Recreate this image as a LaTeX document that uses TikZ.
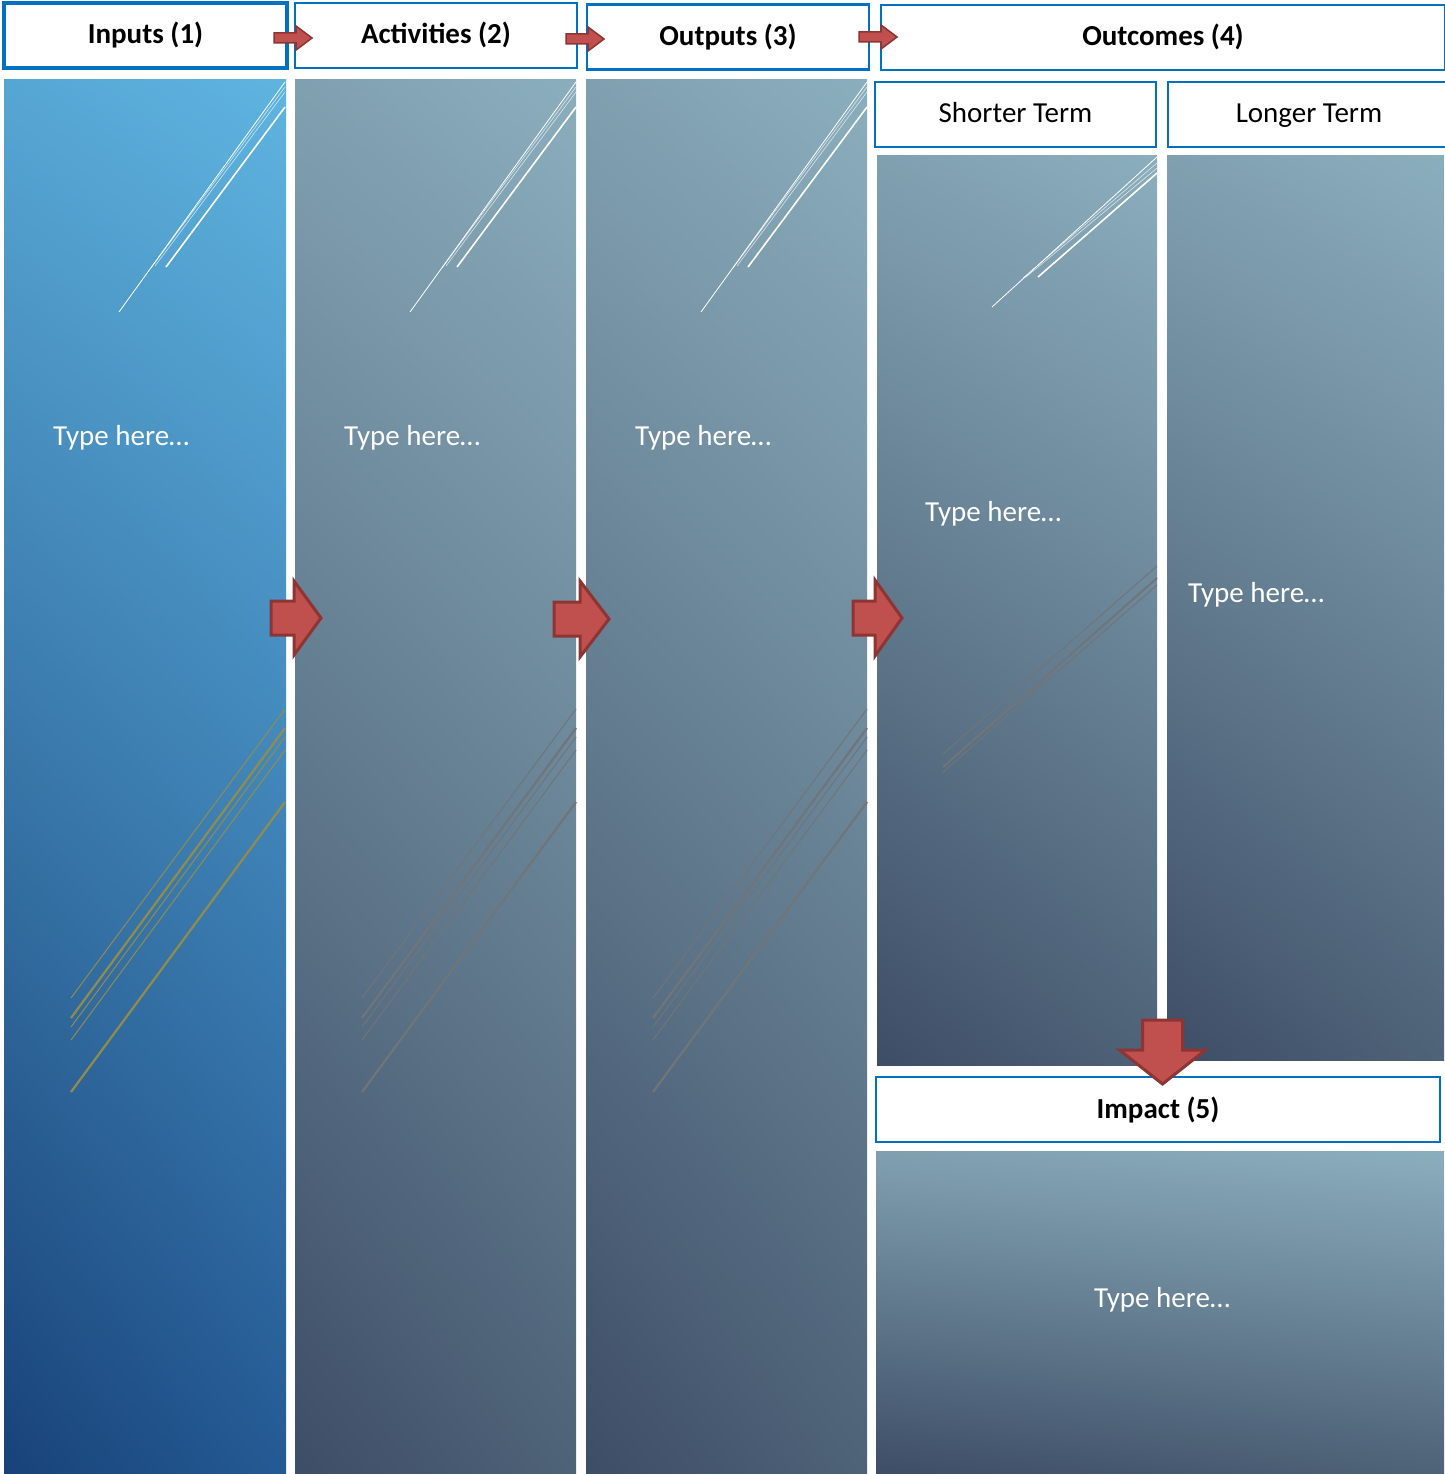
\documentclass[tikz,border=0pt]{standalone}
\usepackage{fontspec}
\setmainfont{Carlito}
\usetikzlibrary{positioning,shadings}
\definecolor{hdrblue}{HTML}{0070C0}
\definecolor{arrowred}{HTML}{C0504D}
\definecolor{arrowdark}{HTML}{8E3533}
\definecolor{goldline}{HTML}{928C4C}
\definecolor{greyline}{HTML}{707579}
\definecolor{blueUL}{RGB}{86,166,212}
\definecolor{blueUR}{RGB}{95,180,224}
\definecolor{blueLL}{RGB}{24,66,121}
\definecolor{blueLR}{RGB}{36,90,147}
\definecolor{greyUL}{RGB}{128,160,176}
\definecolor{greyUR}{RGB}{139,174,189}
\definecolor{greyLL}{RGB}{61,77,102}
\definecolor{greyLR}{RGB}{78,98,120}

\begin{document}
\begin{tikzpicture}[x=1pt,y=-1pt,line join=miter]
  \tikzstyle{header}=[draw=hdrblue,line width=2.5pt,fill=white,inner sep=0pt,
                      minimum height=65pt,text height=22pt,text depth=5pt,
                      font=\fontsize{29}{34}\selectfont\bfseries]
  \tikzstyle{subheader}=[header,font=\fontsize{29}{34}\selectfont]
  \tikzstyle{bluepanel}=[inner sep=0pt,upper left=blueUL,upper right=blueUR,
                         lower left=blueLL,lower right=blueLR]
  \tikzstyle{greypanel}=[inner sep=0pt,upper left=greyUL,upper right=greyUR,
                         lower left=greyLL,lower right=greyLR]
  \tikzstyle{typehere}=[text=white,inner sep=0pt,text height=23pt,text depth=4pt,
                        font=\fontsize{29}{34}\selectfont]
  \tikzstyle{blockarrow}=[fill=arrowred,draw=arrowdark,line width=3pt]

  \useasboundingbox (0,0) rectangle (1444,1474);

  % panels
  \node[bluepanel,minimum width=282pt,minimum height=1394pt] (inpanel) at (145,777) {};
  \node[greypanel,minimum width=281pt,minimum height=1394pt] (actpanel) at (435.5,777) {};
  \node[greypanel,minimum width=281pt,minimum height=1394pt] (outpanel) at (726.5,777) {};
  \node[greypanel,minimum width=280pt,minimum height=909pt] (shortpanel) at (1017,610.5) {};
  \node[greypanel,minimum width=277pt,minimum height=904pt] (longpanel) at (1305.5,608) {};
  \node[greypanel,minimum width=568pt,minimum height=323pt] (imppanel) at (1160,1312.5) {};

  % streaks
  \foreach \dx/\col in {0/goldline,291/greyline,582/greyline}{
    \draw[white,line width=0.8pt] (285+\dx,82) -- (119+\dx,312);
    \draw[white,line width=0.6pt,opacity=0.7] (285+\dx,87) -- (151+\dx,268);
    \draw[white,line width=0.6pt,opacity=0.7] (285+\dx,92) -- (155+\dx,266);
    \draw[white,line width=1.6pt] (285+\dx,107) -- (166+\dx,267);
    \draw[\col,line width=1pt] (285+\dx,709) -- (71+\dx,998);
    \draw[\col,line width=2.2pt] (285+\dx,728) -- (71+\dx,1018);
    \draw[\col,line width=1pt] (285+\dx,737) -- (71+\dx,1027);
    \draw[\col,line width=1pt] (285+\dx,750) -- (71+\dx,1040);
    \draw[\col,line width=2.2pt] (285+\dx,802) -- (71+\dx,1092);
  }
  \draw[white,line width=0.8pt] (1157,157) -- (992,307);
  \draw[white,line width=0.6pt,opacity=0.7] (1157,163) -- (1023,278);
  \draw[white,line width=0.6pt,opacity=0.7] (1157,168) -- (1026,277);
  \draw[white,line width=1.6pt] (1157,173) -- (1038,277);
  \draw[greyline,line width=1pt] (1157,566) -- (943,754);
  \draw[greyline,line width=2pt] (1157,578) -- (943,767);
  \draw[greyline,line width=1pt] (1157,585) -- (943,772);

  \node[typehere,anchor=west] (intext) at (53,436) {Type here…};
  \node[typehere,anchor=west] (acttext) at (344,436) {Type here…};
  \node[typehere,anchor=west] (outtext) at (635,436) {Type here…};
  \node[typehere,anchor=west] (shorttext) at (925,512) {Type here…};
  \node[typehere,anchor=west] (longtext) at (1188,593) {Type here…};
  \node[typehere] (imptext) at (1162,1298) {Type here…};

  % headings
  \node[header,line width=4pt,minimum width=283pt] (inputs) at (145.5,35.5) {Inputs (1)};
  \node[header,minimum width=282pt] (activities) at (436,35.5) {Activities (2)};
  \node[header,minimum width=282pt] (outputs) at (728,37) {Outputs (3)};
  \node[header,minimum width=564pt] (outcomes) at (1163,37.5) {Outcomes (4)};
  \node[subheader,minimum width=281pt] (shorter) at (1015.5,114.5) {Shorter Term};
  \node[subheader,minimum width=282pt] (longer) at (1309,114.5) {Longer Term};
  \node[header,minimum width=564pt] (impact) at (1158,1109.5) {Impact (5)};

  % arrows
  \draw[blockarrow,line width=1.5pt,shift={(274,38)}] (0,-5) -- (22,-5) -- (22,-12) -- (38,0) -- (22,12) -- (22,5) -- (0,5) -- cycle;
  \draw[blockarrow,line width=1.5pt,shift={(566,39)}] (0,-5) -- (22,-5) -- (22,-12) -- (38,0) -- (22,12) -- (22,5) -- (0,5) -- cycle;
  \draw[blockarrow,line width=1.5pt,shift={(859,37)}] (0,-5) -- (22,-5) -- (22,-12) -- (38,0) -- (22,12) -- (22,5) -- (0,5) -- cycle;
  \draw[blockarrow,shift={(271,618)}] (0,-17) -- (23,-17) -- (23,-37) -- (50,0) -- (23,37) -- (23,17) -- (0,17) -- cycle;
  \draw[blockarrow,shift={(554,619)}] (0,-17) -- (26,-17) -- (26,-38) -- (55,0) -- (26,38) -- (26,17) -- (0,17) -- cycle;
  \draw[blockarrow,shift={(853,618)}] (0,-17) -- (22,-17) -- (22,-38) -- (49,0) -- (22,38) -- (22,17) -- (0,17) -- cycle;
  \draw[blockarrow,shift={(1162.5,1020)}] (-20,0) -- (20,0) -- (20,30) -- (43,30) -- (0,64) -- (-43,30) -- (-20,30) -- cycle;
\end{tikzpicture}
\end{document}
